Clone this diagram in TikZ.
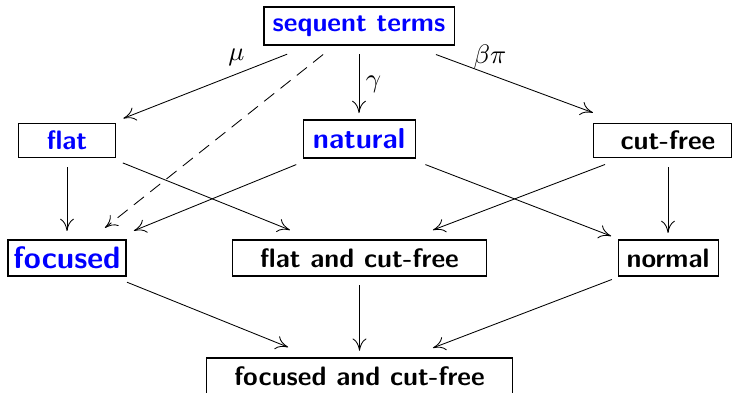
\documentclass[tikz,border=0pt]{standalone}
\usetikzlibrary{arrows.meta,calc}
\tikzset{
  box/.style={draw, line width=0.38pt, inner sep=1pt, outer sep=0pt, font=\sffamily\bfseries},
  bl/.style={text=blue},
  arr/.style={line width=0.32pt, -{To[length=4.6pt,width=5.2pt]}},
  dsh/.style={arr, dash pattern=on 4.8pt off 3pt},
  lbl/.style={inner sep=0pt, font=\normalsize},
}
\begin{document}
\begin{tikzpicture}[x=0.375pt, y=-0.375pt]
\useasboundingbox (0,0) rectangle (740,392);
\node[box, bl, minimum width=71.25pt, minimum height=14.25pt] (st) at (359,26) {sequent terms};
\node[box, bl, minimum width=36.4pt, minimum height=13.1pt] (flat) at (67,140.5) {flat};
\node[box, bl, minimum width=42pt, minimum height=14.25pt, font=\sffamily\bfseries\fontsize{10.8}{13}\selectfont] (nat) at (359,139) {natural};
\node[box, minimum width=51.75pt, minimum height=13.1pt] (cf) at (662,140.5) {\hspace*{4.5pt}cut-free};
\coordinate (cfa) at ($(cf)+(6,0)$);
\node[box, bl, minimum width=44.25pt, minimum height=13.5pt, font=\sffamily\bfseries\fontsize{11.6}{14}\selectfont] (foc) at (67,258) {focused};
\node[box, minimum width=95.6pt, minimum height=13.5pt] (fcf1) at (359.5,258) {flat and cut-free};
\node[box, minimum width=37.5pt, minimum height=13.5pt] (nor) at (668,258) {normal};
\node[box, minimum width=114.4pt, minimum height=13.5pt] (fcf) at (359.5,376) {focused and cut-free};

\draw[arr] ($(st)!0.246!(flat)$) -- node[lbl, pos=0.31, yshift=6.4pt] {$\mu$} ($(st)!0.807!(flat)$);
\draw[dsh] ($(st)!0.123!(foc)$) -- ($(st)!0.870!(foc)$);
\draw[arr] ($(st)!0.248!(nat)$) -- node[lbl, pos=0.51, xshift=5.4pt] {$\gamma$} ($(st)!0.770!(nat)$);
\draw[arr] ($(st)!0.249!(cfa)$) -- node[lbl, pos=0.344, yshift=6.5pt] {$\beta\pi$} ($(st)!0.757!(cfa)$);

\draw[arr] ($(flat)!0.226!(foc)$) -- ($(flat)!0.770!(foc)$);
\draw[arr] ($(flat)!0.191!(fcf1)$) -- ($(flat)!0.762!(fcf1)$);
\draw[arr] ($(nat)!0.215!(foc)$) -- ($(nat)!0.771!(foc)$);
\draw[arr] ($(nat)!0.215!(nor)$) -- ($(nat)!0.816!(nor)$);
\draw[arr] ($(cfa)!0.204!(fcf1)$) -- ($(cfa)!0.762!(fcf1)$);
\draw[arr] ($(cfa)!0.226!(nor)$) -- ($(cfa)!0.787!(nor)$);

\draw[arr] ($(foc)!0.205!(fcf)$) -- ($(foc)!0.756!(fcf)$);
\draw[arr] ($(fcf1)!0.231!(fcf)$) -- ($(fcf1)!0.786!(fcf)$);
\draw[arr] ($(nor)!0.182!(fcf)$) -- ($(nor)!0.762!(fcf)$);
\end{tikzpicture}
\end{document}
